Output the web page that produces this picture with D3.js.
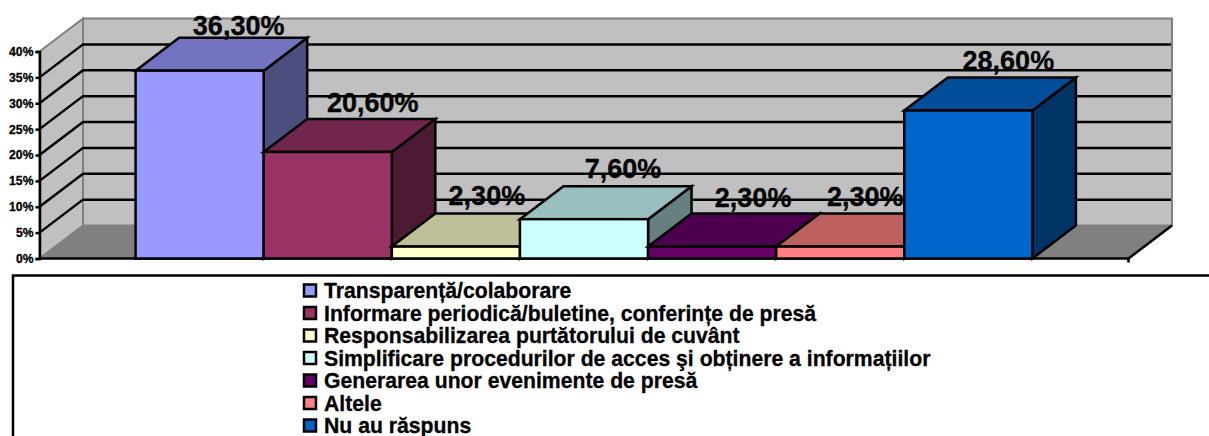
<!DOCTYPE html>
<html>
<head>
<meta charset="utf-8">
<script src="https://cdn.jsdelivr.net/npm/d3@7"></script>
<style>
  body { margin: 0; background: #fff; }
  svg { display: block; }
  text { font-family: "Liberation Sans", Arial, sans-serif; font-weight: bold; fill: #000; stroke: #000; stroke-width: 0.3px; }
</style>
</head>
<body>
<svg width="1209" height="436"></svg>
<script>
// Data
var categories = [
  "Transparență/colaborare",
  "Informare periodică/buletine, conferințe de presă",
  "Responsabilizarea purtătorului de cuvânt",
  "Simplificare procedurilor de acces şi obținere a informațiilor",
  "Generarea unor evenimente de presă",
  "Altele",
  "Nu au răspuns"
];
var values = [36.3, 20.6, 2.3, 7.6, 2.3, 2.3, 28.6];
var valueLabels = ["36,30%", "20,60%", "2,30%", "7,60%", "2,30%", "2,30%", "28,60%"];
var colors = ["#9999ff", "#993366", "#ffffcc", "#ccffff", "#660066", "#ff8080", "#0066cc"];
var yTicks = [0, 5, 10, 15, 20, 25, 30, 35, 40];

var svg = d3.select("svg");

// 3d depth of the plot
var dx = 43.5, dy = 33;

var x = d3.scaleBand()
    .domain(categories)
    .range([39.5, 1128.5])
    .paddingInner(0)
    .paddingOuter(0.75);

var y = d3.scaleLinear()
    .domain([0, 40])
    .range([258.5, 51.5]);

function shade(c, k) {
  var r = d3.rgb(c);
  return d3.rgb(r.r * k, r.g * k, r.b * k).formatHex();
}
function poly(points) {
  return points.map(function(p){ return p.join(","); }).join(" ");
}

var x0 = x.range()[0], x1 = x.range()[1], y0 = y(0), yTop = y(40);

// Back wall, side wall and floor
svg.append("polygon")
    .attr("points", poly([[x0 + dx, yTop - dy], [x1 + dx, yTop - dy], [x1 + dx, y0 - dy], [x0 + dx, y0 - dy]]))
    .attr("fill", "#c0c0c0")
    .attr("stroke", "#808080")
    .attr("stroke-width", 2);
svg.append("polygon")
    .attr("points", poly([[x0, yTop], [x0 + dx, yTop - dy], [x0 + dx, y0 - dy], [x0, y0]]))
    .attr("fill", "#c0c0c0")
    .attr("stroke", "#808080")
    .attr("stroke-width", 2);
svg.append("polygon")
    .attr("points", poly([[x0, y0], [x0 + dx, y0 - dy], [x1 + dx, y0 - dy], [x1, y0]]))
    .attr("fill", "#808080");

// Gridlines, along the side wall and the back wall
var grid = yTicks.slice(1, -1);
svg.append("g").selectAll("path")
    .data(grid)
    .enter()
    .append("path")
      .attr("d", function(d){
        return "M" + x0 + "," + y(d) + "L" + (x0 + dx) + "," + (y(d) - dy) + "H" + (x1 + dx - 1);
      })
      .attr("fill", "none")
      .attr("stroke", "#000")
      .attr("stroke-width", 2.5);

// Floor edges
svg.append("path")
    .attr("d", "M" + x1 + "," + y0 + "L" + (x1 + dx) + "," + (y0 - dy))
    .attr("stroke", "#000")
    .attr("stroke-width", 2.5);
svg.append("path")
    .attr("d", "M" + x0 + "," + y0 + "H" + x1 + "V" + (y0 + 4))
    .attr("fill", "none")
    .attr("stroke", "#000")
    .attr("stroke-width", 2.5);

// Y axis
var yAxis = svg.append("g")
    .attr("transform", "translate(" + x0 + ",0)")
    .call(d3.axisLeft(y)
      .tickValues(yTicks)
      .tickSize(4)
      .tickPadding(2)
      .tickFormat(function(d){ return d + "%"; }));
yAxis.select(".domain").attr("stroke-width", 2.5);
yAxis.selectAll(".tick line").attr("stroke-width", 2.5);
yAxis.selectAll("text").style("font-size", "12.2px").style("font-family", "'Liberation Sans', Arial, sans-serif");

// Bars, left to right so each one covers the previous one
var bars = svg.append("g").selectAll("g")
    .data(categories)
    .enter()
    .append("g")
      .attr("stroke", "#000")
      .attr("stroke-width", 2.5)
      .attr("stroke-linejoin", "miter");

bars.append("polygon") // side
    .attr("points", function(d, i){
      var r = x(d) + x.bandwidth(), t = y(values[i]);
      return poly([[r, t], [r + dx, t - dy], [r + dx, y0 - dy], [r, y0]]);
    })
    .attr("fill", function(d, i){ return shade(colors[i], 0.5); });
bars.append("polygon") // top
    .attr("points", function(d, i){
      var l = x(d), r = l + x.bandwidth(), t = y(values[i]);
      return poly([[l, t], [l + dx, t - dy], [r + dx, t - dy], [r, t]]);
    })
    .attr("fill", function(d, i){ return shade(colors[i], 0.75); });
bars.append("rect") // front
    .attr("x", function(d){ return x(d); })
    .attr("y", function(d, i){ return y(values[i]); })
    .attr("width", x.bandwidth())
    .attr("height", function(d, i){ return y0 - y(values[i]); })
    .attr("fill", function(d, i){ return colors[i]; });

// Value labels, with small per-label nudges
var labelShiftX = [-1, 5, -9, -1, 1, -15, 0];
var labelShiftY = [4, 0, -2, -1, 0, -1, 0];
svg.append("g").selectAll("text")
    .data(valueLabels)
    .enter()
    .append("text")
      .attr("x", function(d, i){ return x(categories[i]) + x.bandwidth() / 2 + 40 + labelShiftX[i]; })
      .attr("y", function(d, i){ return y(values[i]) - dy - 7 + labelShiftY[i]; })
      .attr("text-anchor", "middle")
      .style("font-size", "27px")
      .text(function(d){ return d; });

// Legend box runs off the right and bottom of the picture
svg.append("rect")
    .attr("x", 13)
    .attr("y", 275.5)
    .attr("width", 1300)
    .attr("height", 300)
    .attr("fill", "#fff")
    .attr("stroke", "#000")
    .attr("stroke-width", 2.5);

var legendY = d3.scalePoint()
    .domain(categories)
    .range([290.5, 425.5]);

var legend = svg.append("g").selectAll("g")
    .data(categories)
    .enter()
    .append("g")
      .attr("transform", function(d){ return "translate(304," + legendY(d) + ")"; });

legend.append("rect")
    .attr("x", 0)
    .attr("y", -6)
    .attr("width", 12)
    .attr("height", 12)
    .attr("fill", function(d, i){ return colors[i]; })
    .attr("stroke", "#000")
    .attr("stroke-width", 2.5);

legend.append("text")
    .attr("x", 20)
    .attr("y", 7.5)
    .style("font-size", "21.2px")
    .text(function(d){ return d; });
</script>
</body>
</html>
